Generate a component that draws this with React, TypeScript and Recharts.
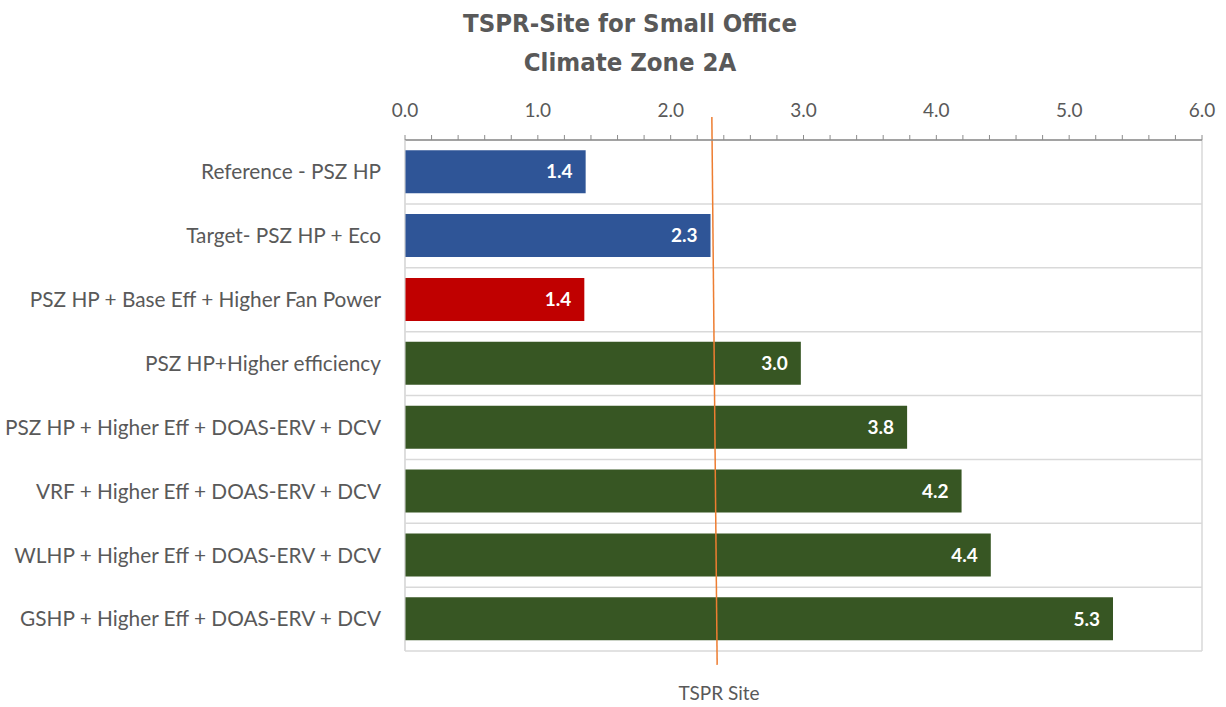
import React from 'react';
import { BarChart, Bar, XAxis, YAxis, CartesianGrid, Cell, LabelList, ReferenceLine } from 'recharts';

const categories = [
  'Reference - PSZ HP',
  'Target- PSZ HP + Eco',
  'PSZ HP + Base Eff + Higher Fan Power',
  'PSZ HP+Higher efficiency',
  'PSZ HP + Higher Eff + DOAS-ERV + DCV',
  'VRF + Higher Eff + DOAS-ERV + DCV',
  'WLHP + Higher Eff + DOAS-ERV + DCV',
  'GSHP + Higher Eff + DOAS-ERV + DCV',
];
const values = [1.36, 2.3, 1.35, 2.98, 3.78, 4.19, 4.41, 5.33];
const barColors = ['#2F5597', '#2F5597', '#C00000', '#375623', '#375623', '#375623', '#375623', '#375623'];
const axisTicks = [0, 0.2, 0.4, 0.6, 0.8, 1, 1.2, 1.4, 1.6, 1.8, 2, 2.2, 2.4, 2.6, 2.8, 3, 3.2, 3.4, 3.6, 3.8, 4, 4.2, 4.4, 4.6, 4.8, 5, 5.2, 5.4, 5.6, 5.8, 6];
const majorTicks = [0, 1, 2, 3, 4, 5, 6];
const rowBoundaries = [0, 1, 2, 3, 4, 5, 6, 7, 8];
// TSPR Site marker line: x in axis units, y on the hidden row axis (0 = plot top, 7 = plot bottom)
const tsprSiteLine = [
  { x: 2.31, y: -0.315 },
  { x: 2.35, y: 7.19 },
];

const data = categories.map((name, i) => ({ name, value: values[i] }));

const FONT = 'Lato, "Open Sans", sans-serif';
const GREY = '#595959';

const XTick = (props: any) => {
  const { x, y, payload } = props;
  const v = payload.value as number;
  if (Math.abs(v - Math.round(v)) > 1e-6) return <g />;
  return (
    <text x={x} y={y} textAnchor="middle" fill={GREY} fontSize={19} fontFamily={FONT}>
      {v.toFixed(1)}
    </text>
  );
};

const rowGrid = ({ offset }: any) =>
  rowBoundaries.map((i) => offset.top + (i * offset.height) / categories.length);

export default function App() {
  return (
    <div style={{ position: 'absolute', left: 0, top: 0, width: 1226, height: 707, background: '#fff' }}>
      <div
        style={{
          position: 'absolute',
          left: 430,
          width: 400,
          top: 4,
          textAlign: 'center',
          fontFamily: '"DejaVu Sans Condensed", "DejaVu Sans", sans-serif',
          fontWeight: 'bold',
          fontSize: 25.5,
          lineHeight: '39px',
          color: GREY,
        }}
      >
        <div>TSPR-Site for Small Office</div>
        <div>Climate Zone 2A</div>
      </div>
      <BarChart
        width={1226}
        height={707}
        data={data}
        layout="vertical"
        margin={{ top: 90, right: 24, bottom: 56, left: 0 }}
        barCategoryGap="16%"
      >
        <XAxis
          type="number"
          orientation="top"
          domain={[0, 6]}
          ticks={axisTicks}
          interval={0}
          height={50}
          tick={<XTick />}
          tickSize={5}
          tickMargin={18}
          axisLine={{ stroke: '#8C8C8C', strokeWidth: 1.5 }}
          tickLine={{ stroke: '#8C8C8C' }}
        />
        <XAxis xAxisId="grid" type="number" domain={[0, 6]} ticks={majorTicks} hide />
        <YAxis
          type="category"
          dataKey="name"
          width={405}
          tickSize={0}
          tickMargin={24}
          axisLine={{ stroke: '#D9D9D9' }}
          tickLine={false}
          tick={{ fill: GREY, fontSize: 20.8, fontFamily: FONT }}
          interval={0}
        />
        <YAxis yAxisId="num" type="number" hide />
        <CartesianGrid
          xAxisId="grid"
          stroke="#D9D9D9"
          strokeWidth={1.5}
          horizontalCoordinatesGenerator={rowGrid}
        />
        <Bar dataKey="value" isAnimationActive={false}>
          {data.map((d, i) => (
            <Cell key={d.name} fill={barColors[i]} />
          ))}
          <LabelList
            dataKey="value"
            position="insideRight"
            offset={13}
            formatter={(v: any) => Number(v).toFixed(1)}
            fill="#FFFFFF"
            fontSize={19}
            fontWeight="bold"
            fontFamily={FONT}
          />
        </Bar>
        <ReferenceLine
          yAxisId="num"
          segment={tsprSiteLine}
          stroke="#ED7D31"
          strokeWidth={1.5}
          ifOverflow="visible"
        />
      </BarChart>
      <div
        style={{
          position: 'absolute',
          left: 619,
          width: 200,
          top: 681,
          textAlign: 'center',
          fontFamily: FONT,
          fontSize: 19,
          color: GREY,
        }}
      >
        TSPR Site
      </div>
    </div>
  );
}
